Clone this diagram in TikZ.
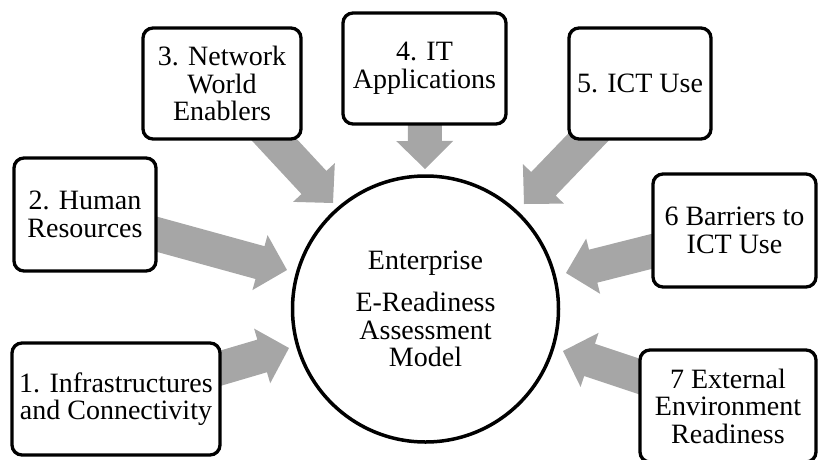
\documentclass[tikz,border=0pt]{standalone}
\usepackage{fontspec}
\setmainfont{Liberation Serif}
\usetikzlibrary{calc,backgrounds}
\definecolor{arrowgray}{RGB}{166,166,166}
% #1 = start node, #2 = tip coordinate
\newcommand{\blockarr}[2]{%
  \path ($(#2)!28pt!(#1.center)$) coordinate (bh);
  \fill[arrowgray] ($(#1.center)!17pt!90:(#2)$) -- ($(bh)!17pt!90:(#2)$)
    -- ($(bh)!28.5pt!90:(#2)$) -- (#2) -- ($(bh)!28.5pt!-90:(#2)$)
    -- ($(bh)!17pt!-90:(#2)$) -- ($(#1.center)!17pt!-90:(#2)$) -- cycle;
}
\begin{document}
\begin{tikzpicture}[x=1pt,y=-1pt,
  box/.style={draw=black,line width=3.3pt,rounded corners=10pt,fill=white,
    align=center,inner sep=0pt,font=\fontsize{28}{27.5}\selectfont},
  hub/.style={circle,draw=black,line width=3.5pt,fill=white,minimum size=266pt,
    inner sep=0pt,align=center,font=\fontsize{28}{27.5}\selectfont}]
\useasboundingbox (0,0) rectangle (820,459);
\clip (0,0) rectangle (820,459);
\node[box,minimum width=208pt,minimum height=112pt] (b1) at (116,399) {1. Infrastructures\\and Connectivity};
\node[box,minimum width=142pt,minimum height=113pt] (b2) at (85,214.5) {2. Human\\Resources};
\node[box,minimum width=158pt,minimum height=111pt] (b3) at (222,83.5) {3. Network\\World\\Enablers};
\node[box,minimum width=163pt,minimum height=111pt] (b4) at (424.5,68.5) {4. IT\\Applications};
\node[box,minimum width=142pt,minimum height=111pt] (b5) at (640,83.5) {5. ICT Use};
\node[box,minimum width=163pt,minimum height=113pt] (b6) at (734.5,230.5) {6 Barriers to\\ICT Use};
\node[box,minimum width=176pt,minimum height=112pt] (b7) at (728,406) {7 External\\Environment\\Readiness};
\node[hub] (hub) at (425.5,309) {Enterprise\\[14.5pt]E-Readiness\\Assessment\\Model};
\coordinate (t1) at (289,348);
\coordinate (t2) at (287,270);
\coordinate (t3) at (333,203);
\coordinate (t4) at (425,169);
\coordinate (t5) at (524,204);
\coordinate (t6) at (566,273);
\coordinate (t7) at (563,351);
\begin{pgfonlayer}{background}
\blockarr{b1}{t1}
\blockarr{b2}{t2}
\blockarr{b3}{t3}
\blockarr{b4}{t4}
\blockarr{b5}{t5}
\blockarr{b6}{t6}
\blockarr{b7}{t7}
\end{pgfonlayer}
\end{tikzpicture}
\end{document}
